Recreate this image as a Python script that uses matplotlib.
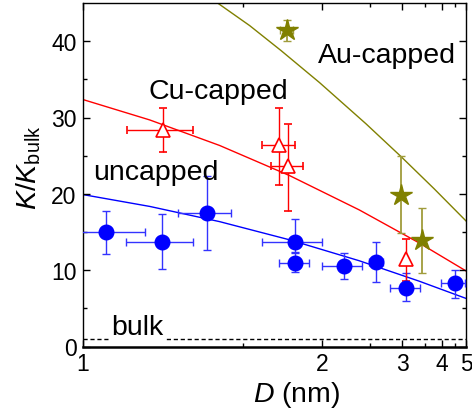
import matplotlib
matplotlib.use('Agg')
import matplotlib.pyplot as plt
from matplotlib.ticker import FixedLocator, NullFormatter, FixedFormatter

# ---------------- data ----------------
unc_D = [1.05, 1.198, 1.349, 1.796, 1.796, 2.195, 2.58, 3.08, 4.47]
unc_K = [15.0, 13.75, 17.45, 13.7, 11.0, 10.6, 11.1, 7.6, 8.35]
unc_Klo = [12.1, 10.2, 12.6, 12.4, 9.7, 8.9, 8.5, 5.9, 6.4]
unc_Khi = [17.8, 17.4, 22.3, 16.7, 12.3, 12.2, 13.7, 9.6, 10.05]
unc_Derr = [0.1, 0.1, 0.1, 0.2, 0.1, 0.2, 0.1, 0.3, 0.5]

cu_D = [1.2, 1.696, 1.747, 3.07]
cu_K = [28.3, 26.4, 23.6, 11.5]
cu_Klo = [25.5, 21.2, 17.75, 8.6]
cu_Khi = [31.2, 31.3, 29.1, 14.05]
cu_Derr = [0.1, 0.1, 0.1, 0.0]

au_D = [1.741, 2.975, 3.43]
au_K = [41.5, 19.85, 14.0]
au_Klo = [40.0, 14.9, 9.6]
au_Khi = [42.8, 24.9, 18.1]
au_Derr = [0.04, 0.0, 0.0]

# fitted curves
fit_unc_D = [1.0, 1.162, 1.399, 1.758, 2.365, 3.357, 5.0]
fit_unc_K = [19.9, 18.35, 16.36, 13.98, 11.23, 8.56, 6.3]
fit_cu_D = [1.0, 1.162, 1.399, 1.758, 2.365, 3.357, 5.0]
fit_cu_K = [32.35, 29.68, 26.34, 22.40, 17.89, 13.57, 9.9]
fit_au_D = [1.391, 1.534, 1.706, 1.976, 2.445, 2.976, 3.75, 5.0]
fit_au_K = [45.0, 42.04, 38.76, 34.58, 29.18, 24.9, 20.67, 16.45]

bulk_D = [1.0, 5.0]
bulk_K = [1.0, 1.0]

x_major = [1, 2, 3, 4, 5]
x_minor = [1.5, 2.5, 3.5, 4.5]
y_major = [0, 10, 20, 30, 40]
y_minor = [5, 15, 25, 35]

# ---------------- style ----------------
plt.rcParams['font.family'] = ['Liberation Sans', 'DejaVu Sans']
plt.rcParams['mathtext.fontset'] = 'custom'
plt.rcParams['mathtext.rm'] = 'Liberation Sans'
plt.rcParams['mathtext.it'] = 'Liberation Sans:italic'

BLUE = '#0000ff'
RED = '#ff0000'
OLIVE = '#808000'

fig = plt.figure(figsize=(4.72, 4.10), dpi=100)
ax = fig.add_axes([83 / 472, 1 - 347.5 / 410, (466 - 83) / 472, (347.5 - 4) / 410])

ax.set_xscale('function', functions=(lambda d: -1.0 / d, lambda u: -1.0 / u))
ax.set_xlim(1, 5)
ax.set_ylim(0, 45)

# fit curves
ax.plot(fit_unc_D, fit_unc_K, color=BLUE, lw=1.0, zorder=1)
ax.plot(fit_cu_D, fit_cu_K, color=RED, lw=1.0, zorder=1)
ax.plot(fit_au_D, fit_au_K, color=OLIVE, lw=1.0, zorder=1)

# bulk line
ax.plot(bulk_D, bulk_K, color='black', lw=1.0, ls=(0, (3, 2)), zorder=1)


def yerr(K, lo, hi):
    return [[k - l for k, l in zip(K, lo)], [h - k for k, h in zip(K, hi)]]


# uncapped
ax.errorbar(unc_D, unc_K, yerr=yerr(unc_K, unc_Klo, unc_Khi), xerr=unc_Derr,
            fmt='o', color=BLUE, ecolor='#3333ff', elinewidth=1.0, capsize=2.6,
            capthick=1.0, markersize=10.5, zorder=3)

# Cu-capped
ax.errorbar(cu_D, cu_K, yerr=yerr(cu_K, cu_Klo, cu_Khi), xerr=cu_Derr,
            fmt='^', color=RED, ecolor=RED, elinewidth=1.0, capsize=2.6,
            capthick=1.0, markersize=10, markerfacecolor='white',
            markeredgecolor=RED, markeredgewidth=1.2, zorder=3)

# Au-capped
ax.errorbar(au_D, au_K, yerr=yerr(au_K, au_Klo, au_Khi), xerr=au_Derr,
            fmt='*', color=OLIVE, ecolor='#a09c3c', elinewidth=1.3, capsize=2.6,
            capthick=1.0, markersize=16, zorder=3)

# text labels
ax.text(0.6136, 0.827, 'Au-capped', transform=ax.transAxes, fontsize=20.5,
        ha='left', va='baseline')
ax.text(0.1705, 0.7226, 'Cu-capped', transform=ax.transAxes, fontsize=20.5,
        ha='left', va='baseline')
ax.text(0.0253, 0.4876, 'uncapped', transform=ax.transAxes, fontsize=20.5,
        ha='left', va='baseline')
ax.text(0.0749, 0.0364, 'bulk', transform=ax.transAxes, fontsize=20.5,
        ha='left', va='baseline', zorder=2,
        bbox=dict(facecolor='white', edgecolor='none', pad=0.5))

# ticks
ax.xaxis.set_major_locator(FixedLocator(x_major))
ax.xaxis.set_major_formatter(FixedFormatter([str(v) for v in x_major]))
ax.xaxis.set_minor_locator(FixedLocator(x_minor))
ax.xaxis.set_minor_formatter(NullFormatter())
ax.yaxis.set_major_locator(FixedLocator(y_major))
ax.yaxis.set_minor_locator(FixedLocator(y_minor))
ax.yaxis.set_minor_formatter(NullFormatter())

ax.tick_params(which='both', direction='in', top=True, right=True,
               labelsize=16.5, width=1.0, colors='black')
ax.tick_params(which='major', length=5)
ax.tick_params(which='minor', length=3)
ax.tick_params(axis='y', pad=4.5)
ax.tick_params(axis='x', pad=4)

for s in ['left', 'top', 'right']:
    ax.spines[s].set_linewidth(1.0)
ax.spines['bottom'].set_linewidth(1.8)

ax.set_xlabel('$D$ (nm)', fontsize=20.5)
ax.xaxis.set_label_coords(0.559, -0.095)
ax.set_ylabel(r'$K/K_{\mathrm{bulk}}$', fontsize=20.5)
ax.yaxis.set_label_coords(-0.105, 0.523)

fig.savefig('out.png', dpi=100)
